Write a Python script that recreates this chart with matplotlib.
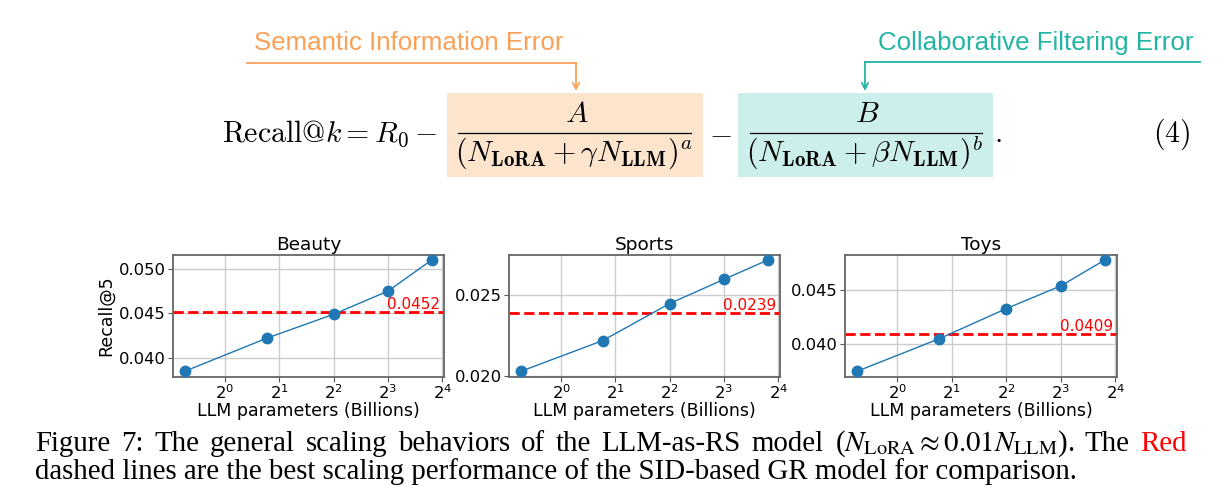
import numpy as np
import matplotlib
matplotlib.use("Agg")
import matplotlib.pyplot as plt
from matplotlib.lines import Line2D
from matplotlib.patches import Rectangle, FancyArrowPatch
from matplotlib.ticker import MultipleLocator, NullLocator, FormatStrFormatter

W, H = 1217, 491

# LLM sizes in billions (x axis, log2)
llm_params = [0.6, 1.7, 4, 8, 14]
datasets = ["Beauty", "Sports", "Toys"]
recall_beauty = [0.0385, 0.0422, 0.0449, 0.0475, 0.0510]
recall_sports = [0.0203, 0.0222, 0.0245, 0.0260, 0.0272]
recall_toys = [0.0375, 0.0405, 0.0433, 0.0454, 0.0478]
sid_best = [0.0452, 0.0239, 0.0409]

caption_1 = ["Figure", "7:", "The", "general", "scaling", "behaviors", "of", "the", "LLM-as-RS",
             "model", r"($N_{\mathrm{LoRA}} \approx 0.01N_{\mathrm{LLM}}$).", "The", "Red"]
caption_2 = "dashed lines are the best scaling performance of the SID-based GR model for comparison."

orange = "#f9a158"
teal = "#22b5a3"
orange_box = "#fde5cd"
teal_box = "#cdefec"


def fx(x):
    return x / W


def fy(y):
    return 1 - y / H


fig = plt.figure(figsize=(W / 100, H / 100), dpi=100)

# ---- equation ----
fig.add_artist(Rectangle((fx(447), fy(177)), 256 / W, 84 / H, transform=fig.transFigure,
                         facecolor=orange_box, edgecolor="none"))
fig.add_artist(Rectangle((fx(738), fy(177)), 255 / W, 84 / H, transform=fig.transFigure,
                         facecolor=teal_box, edgecolor="none"))

eq_size = 21.5
fig.text(fx(437), fy(142), r"$\mathrm{Recall@}k = R_0 -$", ha="right", va="baseline",
         fontsize=eq_size, math_fontfamily="cm")
fig.text(fx(577), fy(122), r"$A$", ha="center", va="baseline", fontsize=eq_size, math_fontfamily="cm")
fig.text(fx(574), fy(161), r"$(N_{\mathbf{LoRA}}+\gamma N_{\mathbf{LLM}})^{a}$", ha="center",
         va="baseline", fontsize=eq_size, math_fontfamily="cm")
fig.add_artist(Line2D([fx(458), fx(691)], [fy(133.5), fy(133.5)], transform=fig.transFigure,
                      color="black", lw=0.9))
fig.text(fx(720), fy(142), r"$-$", ha="center", va="baseline", fontsize=eq_size, math_fontfamily="cm")
fig.text(fx(867), fy(122), r"$B$", ha="center", va="baseline", fontsize=eq_size, math_fontfamily="cm")
fig.text(fx(865), fy(161), r"$(N_{\mathbf{LoRA}}+\beta N_{\mathbf{LLM}})^{b}$", ha="center",
         va="baseline", fontsize=eq_size, math_fontfamily="cm")
fig.add_artist(Line2D([fx(750), fx(982)], [fy(133.5), fy(133.5)], transform=fig.transFigure,
                      color="black", lw=0.9))
fig.text(fx(994), fy(142), r"$.$", ha="left", va="baseline", fontsize=eq_size, math_fontfamily="cm")
fig.text(fx(1172), fy(142), r"$\mathrm{(4)}$", ha="center", va="baseline", fontsize=eq_size,
         math_fontfamily="cm")

# ---- annotations ----
fig.text(fx(254), fy(43), "Semantic Information Error", ha="left", va="center",
         fontsize=18.6, color=orange, family="Liberation Sans")
fig.add_artist(Line2D([fx(247), fx(576)], [fy(62.5), fy(62.5)], transform=fig.transFigure,
                      color=orange, lw=1.3))
fig.add_artist(FancyArrowPatch((fx(576), fy(62.5)), (fx(576), fy(91)), transform=fig.transFigure,
                               arrowstyle="->", mutation_scale=11, color=orange, lw=1.3,
                               shrinkA=0, shrinkB=0))

fig.text(fx(1193), fy(43), "Collaborative Filtering Error", ha="right", va="center",
         fontsize=18.6, color=teal, family="Liberation Sans")
fig.add_artist(Line2D([fx(865), fx(1200)], [fy(62), fy(62)], transform=fig.transFigure,
                      color=teal, lw=1.3))
fig.add_artist(FancyArrowPatch((fx(865), fy(62)), (fx(865), fy(91)), transform=fig.transFigure,
                               arrowstyle="->", mutation_scale=11, color=teal, lw=1.3,
                               shrinkA=0, shrinkB=0))

# ---- subplots ----
lefts = [172.7, 509, 845]
rights = [444, 780, 1117]
top, bottom = 254.5, 376.7
recalls = [recall_beauty, recall_sports, recall_toys]

for i, name in enumerate(datasets):
    ax = fig.add_axes([fx(lefts[i]), fy(bottom), (rights[i] - lefts[i]) / W, (bottom - top) / H])
    ax.plot(llm_params, recalls[i], "o-", color="#1f77b4", lw=1, ms=7.5, zorder=3)
    ax.axhline(sid_best[i], color="red", ls="--", lw=2, zorder=2)
    ax.text(0.985, sid_best[i], f"{sid_best[i]:.4f}", color="red", fontsize=11,
            ha="right", va="bottom", transform=ax.get_yaxis_transform())
    ax.set_xscale("log", base=2)
    ax.set_xticks([1, 2, 4, 8, 16])
    ax.xaxis.set_minor_locator(NullLocator())
    ax.yaxis.set_major_locator(MultipleLocator(0.005))
    ax.yaxis.set_major_formatter(FormatStrFormatter("%.3f"))
    ax.grid(True, color="#cccccc", lw=1)
    ax.set_axisbelow(True)
    ax.tick_params(labelsize=11.8, color="#555555", pad=1.5)
    for s in ax.spines.values():
        s.set_color("#666666")
        s.set_linewidth(1.3)
    ax.set_title(name, fontsize=13.3, pad=3.5)
    ax.set_xlabel("LLM parameters (Billions)", fontsize=12.5, labelpad=0)
    if i == 0:
        ax.set_ylabel("Recall@5", fontsize=12.5, labelpad=3)

# ---- caption (first line justified like LaTeX) ----
cap_size = 20.8
renderer = fig.canvas.get_renderer()
words = []
for w in caption_1:
    words.append(fig.text(0, fy(451), w, ha="left", va="baseline", fontsize=cap_size,
                          family="Liberation Serif", math_fontfamily="stix",
                          color="red" if w == "Red" else "black"))
widths = [t.get_window_extent(renderer).width for t in words]
gap = (1187 - 35 - sum(widths)) / (len(words) - 1)
xpos = 35
for t, wd in zip(words, widths):
    t.set_x(fx(xpos))
    xpos += wd + gap
fig.text(fx(35), fy(479), caption_2, ha="left", va="baseline", fontsize=cap_size,
         family="Liberation Serif")

fig.savefig("out.png", dpi=100)
